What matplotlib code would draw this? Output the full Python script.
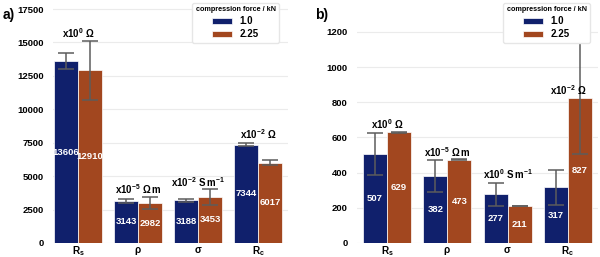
import matplotlib
matplotlib.use("Agg")
import matplotlib.pyplot as plt
import numpy as np

plt.rcParams['font.family'] = ['Liberation Sans', 'DejaVu Sans']
plt.rcParams['font.weight'] = 'bold'
plt.rcParams['mathtext.fontset'] = 'custom'
plt.rcParams['mathtext.rm'] = 'Liberation Sans:bold'
plt.rcParams['mathtext.bf'] = 'Liberation Sans:bold'
plt.rcParams['mathtext.it'] = 'Liberation Sans:bold'

categories = [r'$\mathbf{R_s}$', r'$\mathbf{\rho}$', r'$\mathbf{\sigma}$', r'$\mathbf{R_c}$']
series_names = ['1.0', '2.25']
legend_title = 'compression force / kN'

a_vals_1 = [13606, 3143, 3188, 7344]
a_vals_2 = [12910, 2982, 3453, 6017]
a_err_1 = [600, 150, 130, 100]
a_err_2 = [2200, 470, 580, 170]
a_units = [r'$\mathbf{x10^{0}\ \Omega}$', r'$\mathbf{x10^{-5}\ \Omega\,m}$',
           r'$\mathbf{x10^{-2}\ S\,m^{-1}}$', r'$\mathbf{x10^{-2}\ \Omega}$']
a_unit_y = [15150, 3520, 4060, 7600]
a_yticks = [0, 2500, 5000, 7500, 10000, 12500, 15000, 17500]

b_vals_1 = [507, 382, 277, 317]
b_vals_2 = [629, 473, 211, 827]
b_err_1 = [120, 90, 66, 100]
b_err_2 = [4, 3, 2, 323]
b_units = [r'$\mathbf{x10^{0}\ \Omega}$', r'$\mathbf{x10^{-5}\ \Omega\,m}$',
           r'$\mathbf{x10^{0}\ S\,m^{-1}}$', r'$\mathbf{x10^{-2}\ \Omega}$']
b_unit_y = [636, 478, 355, 832]
b_yticks = [0, 200, 400, 600, 800, 1000, 1200]

c1 = '#10206c'
c2 = '#a2471f'
ecol = '#5c5c5c'

fig = plt.figure(figsize=(6.0, 2.57), dpi=100)
axa = fig.add_axes([53/600, 1 - 243/257, 235/600, 238/257])
axb = fig.add_axes([357/600, 1 - 243/257, 241/600, 238/257])

def draw(ax, v1, v2, e1, e2, units, unit_y, yticks, ytop, xleft, anchor):
    x = np.arange(len(categories))
    w = 0.4
    ax.bar(x - w/2, v1, w, color=c1, edgecolor='white', linewidth=0.5, label=series_names[0], zorder=2)
    ax.bar(x + w/2, v2, w, color=c2, edgecolor='white', linewidth=0.5, label=series_names[1], zorder=2)
    ax.errorbar(x - w/2, v1, yerr=e1, fmt='none', ecolor=ecol, elinewidth=1.1, capsize=5.5, capthick=1.1, zorder=3)
    ax.errorbar(x + w/2, v2, yerr=e2, fmt='none', ecolor=ecol, elinewidth=1.1, capsize=5.5, capthick=1.1, zorder=3)
    for xi, v in zip(x - w/2, v1):
        ax.text(xi, v/2, f'{v}', color='white', ha='center', va='center', fontsize=6.8, fontweight='bold', zorder=4)
    for xi, v in zip(x + w/2, v2):
        ax.text(xi, v/2, f'{v}', color='white', ha='center', va='center', fontsize=6.8, fontweight='bold', zorder=4)
    for xi, u, uy in zip(x, units, unit_y):
        ax.text(xi, uy, u, ha='center', va='bottom', fontsize=7, zorder=4)
    ax.set_xlim(xleft, 3.5)
    ax.set_ylim(0, ytop)
    ax.set_xticks(x)
    ax.set_xticklabels(categories, fontsize=7.2)
    ax.set_yticks(yticks)
    ax.set_yticklabels([str(t) for t in yticks], fontsize=6.8, fontweight='bold')
    ax.tick_params(axis='y', length=0, pad=6.5)
    ax.tick_params(axis='x', length=0, pad=1.2)
    ax.grid(axis='y', color='#ebebeb', linewidth=0.8, zorder=0)
    ax.set_axisbelow(True)
    for s in ax.spines.values():
        s.set_visible(False)
    leg = ax.legend(title=legend_title, loc='upper right', bbox_to_anchor=anchor,
                    fontsize=7, title_fontsize=5.2,
                    frameon=True, fancybox=True, framealpha=1, edgecolor='#e6e6e6',
                    borderpad=0.35, labelspacing=0.3, handlelength=2.0, handleheight=0.55,
                    handletextpad=0.8, borderaxespad=0.0)
    leg.get_title().set_fontweight('bold')
    for t in leg.get_texts():
        t.set_fontweight('bold')
    return ax

draw(axa, a_vals_1, a_vals_2, a_err_1, a_err_2, a_units, a_unit_y, a_yticks, 17800, -0.42,
     ((279 - 53) / 235, (243 - 3) / 238))
draw(axb, b_vals_1, b_vals_2, b_err_1, b_err_2, b_units, b_unit_y, b_yticks, 1353, -0.5,
     ((590 - 357) / 241, (243 - 3) / 238))

fig.text(3/600, 1 - 15/257, 'a)', fontsize=10, fontweight='bold', va='center', ha='left')
fig.text(315/600, 1 - 15/257, 'b)', fontsize=10, fontweight='bold', va='center', ha='left')

fig.savefig('out.png', dpi=100)
